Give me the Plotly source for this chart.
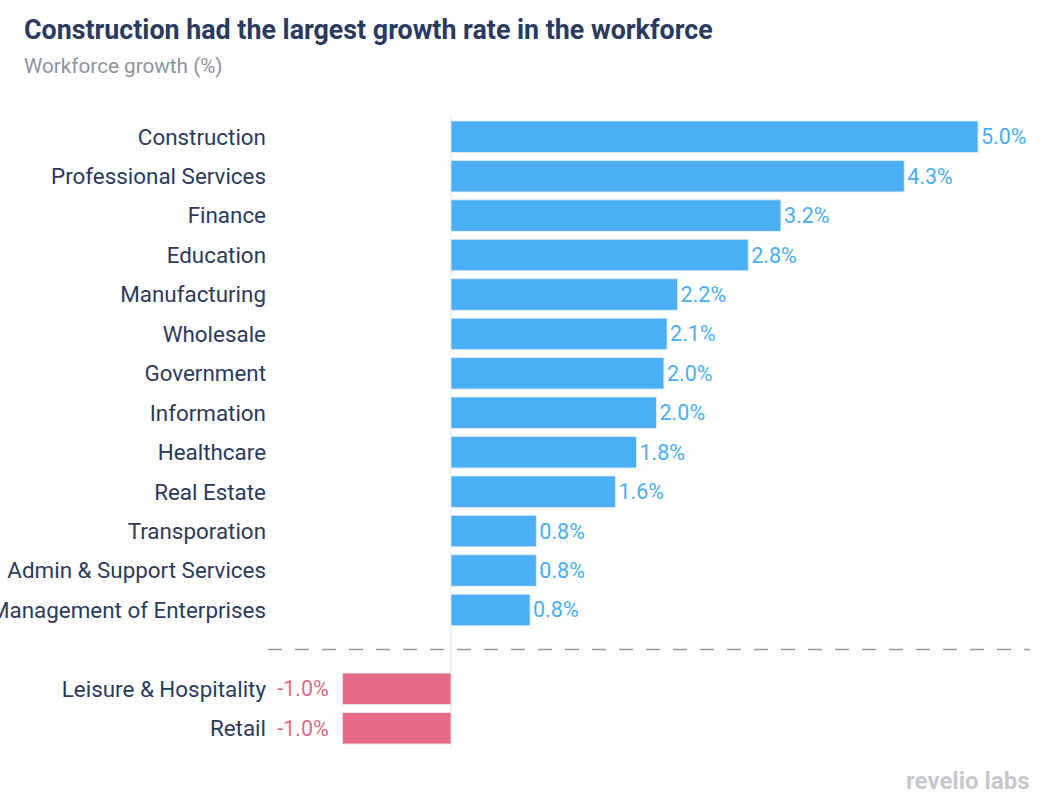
import plotly.graph_objects as go

categories = ["Construction", "Professional Services", "Finance", "Education",
              "Manufacturing", "Wholesale", "Government", "Information",
              "Healthcare", "Real Estate", "Transporation", "Admin & Support Services",
              "Management of Enterprises", "Leisure & Hospitality", "Retail"]
values = [5.0, 4.3, 3.13, 2.82, 2.15, 2.05, 2.02, 1.95, 1.76, 1.56, 0.81, 0.81, 0.75, -1.03, -1.03]
labels = ["5.0%", "4.3%", "3.2%", "2.8%", "2.2%", "2.1%", "2.0%", "2.0%", "1.8%", "1.6%",
          "0.8%", "0.8%", "0.8%", "-1.0%", "-1.0%"]
# slot positions: positives 0..12, gap at 13 (separator), negatives 14..15
slots = list(range(13)) + [14, 15]
separator_slot = 13

BLUE = "#4AAFF4"
PINK = "#E66A86"
colors = [BLUE if v >= 0 else PINK for v in values]
# negative labels sit a little further from their bars
display_text = [t if v >= 0 else t + "\u00a0\u00a0" for t, v in zip(labels, values)]

W, H = 1051, 805
L, R, T, B = 268, 21, 117, 57
PW, PH = W - L - R, H - T - B

fig = go.Figure(go.Bar(
    x=values, y=slots, orientation="h",
    marker=dict(color=colors, line=dict(color="rgba(225,235,245,0.9)", width=1)),
    text=display_text, textposition="outside", cliponaxis=False, constraintext="none",
    textfont=dict(color=colors, size=21.5, family="Roboto"),
    hoverinfo="skip",
))

fig.update_layout(
    width=W, height=H,
    margin=dict(l=L, r=R, t=T, b=B, autoexpand=False),
    paper_bgcolor="white", plot_bgcolor="white",
    bargap=0.2, showlegend=False,
    font=dict(family="Roboto", color="#2C3A5C"),
    xaxis=dict(range=[-1.736, 5.493], showgrid=False, zeroline=False,
               showticklabels=False, ticks="", automargin=False),
    yaxis=dict(range=[15.5, -0.5], tickmode="array", tickvals=slots, ticktext=categories,
               showgrid=False, zeroline=False, ticks="", ticklabelstandoff=1,
               automargin=False,
               tickfont=dict(size=22.4, color="#2C3A5C", family="Roboto")),
    shapes=[
        dict(type="line", xref="x", yref="y", x0=0, x1=0, y0=-0.5, y1=15.5,
             line=dict(color="#E1E3EA", width=1), layer="below"),
        dict(type="line", xref="paper", yref="y", x0=0, x1=1, y0=separator_slot, y1=separator_slot,
             line=dict(color="#9A9A9A", width=1.5, dash="14px,13px")),
    ],
    annotations=[
        dict(text="<b>Construction had the largest growth rate in the workforce</b>",
             xref="paper", yref="paper", x=(22 - L) / PW, y=1 + (T - 30) / PH,
             xanchor="left", yanchor="middle", showarrow=False,
             font=dict(size=26.8, color="#2B3A5E", family="Roboto")),
        dict(text="Workforce growth (%)",
             xref="paper", yref="paper", x=(22 - L) / PW, y=1 + (T - 66) / PH,
             xanchor="left", yanchor="middle", showarrow=False,
             font=dict(size=20.7, color="#8E949C", family="Roboto")),
        dict(text="<b>revelio labs</b>",
             xref="paper", yref="paper", x=(1032 - L) / PW, y=-(781 - (H - B)) / PH,
             xanchor="right", yanchor="middle", showarrow=False,
             font=dict(size=24, color="#C6C8CC", family="Roboto")),
    ],
)

fig.write_html("out.html",
               config={"displayModeBar": False, "staticPlot": True},
               post_script="document.body.style.margin='0';document.body.style.overflow='hidden';")
